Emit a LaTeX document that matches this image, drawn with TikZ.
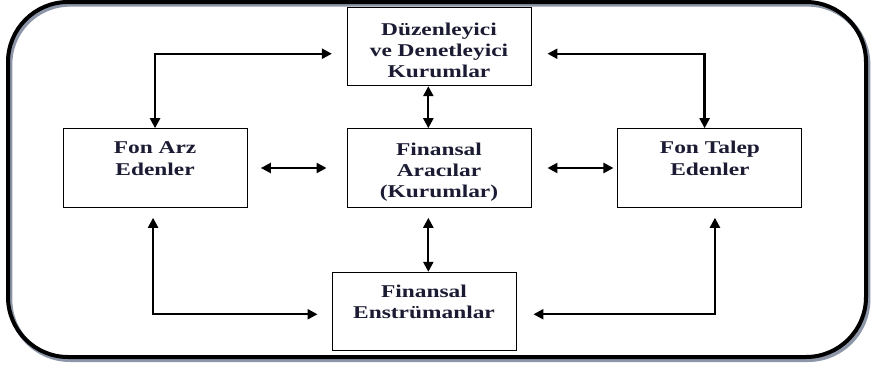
\documentclass[tikz,border=0pt]{standalone}
\usepackage{fontspec}
\setmainfont{Liberation Serif}[FakeStretch=1.3]
\usepackage{tikz}
\usetikzlibrary{arrows.meta, positioning, calc}
\definecolor{koyumavi}{HTML}{1B1B33}
\definecolor{golge}{HTML}{8C96A8}
\newcommand{\ustpay}{\rule{0pt}{15.5pt}}
\tikzstyle{kurum} = [
  rectangle, draw=black, line width=0.7pt, fill=white,
  minimum width=138pt, minimum height=59pt,
  align=center, inner sep=2pt, text=koyumavi,
  font=\bfseries\fontsize{13.5}{16}\selectfont
]
\tikzstyle{ciftok} = [
  {Triangle[length=7.5pt,width=7.5pt]}-{Triangle[length=7.5pt,width=7.5pt]},
  line width=1.7pt, color=black
]
\tikzstyle{cerceve} = [
  line width=3pt, rounded corners=45pt
]
\begin{document}
\begin{tikzpicture}
  \useasboundingbox (0,0) rectangle (654pt,276.75pt);

  % ── Frame ─────────────────────────────────────────────
  \draw[cerceve, golge, line width=3.5pt] (7.5pt,7pt) rectangle (651pt,273.5pt);
  \draw[cerceve] (6pt,9pt) rectangle (649.5pt,275.25pt);

  % ── Aracılar ──────────────────────────────────────────
  \node[kurum] (aracilar) at (329.25pt,150.75pt) {\ustpay Finansal\\Aracılar\\(Kurumlar)};

  % ── Düzenleyici ───────────────────────────────────────
  \node[kurum, above=31.5pt of aracilar]
    (duz) {\ustpay Düzenleyici\\ve Denetleyici\\Kurumlar};

  % ── Fon Arz ───────────────────────────────────────────
  \node[kurum, left=74.25pt of aracilar]
    (fonarz) {\ustpay Fon Arz\\Edenler\\\strut};

  % ── Fon Talep ─────────────────────────────────────────
  \node[kurum, right=64.5pt of aracilar]
    (fontalep) {\ustpay Fon Talep\\Edenler\\\strut};

  % ── Enstrümanlar ──────────────────────────────────────
  \node[kurum, below=48pt of aracilar, xshift=-11.25pt]
    (enstr) {\ustpay Finansal\\Enstrümanlar\\\strut};

  % ── Arrows ────────────────────────────────────────────
  \draw[ciftok] ([xshift=-11pt,yshift=-5.5pt]duz.west) -| (fonarz.north);
  \draw[ciftok] ([xshift=12pt,yshift=-5.5pt]duz.east) -| ([xshift=-4pt]fontalep.north);
  \draw[ciftok] ([xshift=-8pt]duz.south) -- ([xshift=-8pt]aracilar.north);
  \draw[ciftok] ([xshift=10pt]fonarz.east) -- ([xshift=-15pt]aracilar.west);
  \draw[ciftok] ([xshift=12pt]aracilar.east) -- ([xshift=-3pt]fontalep.west);
  \draw[ciftok] ([xshift=-8pt,yshift=-7.5pt]aracilar.south) -- ([xshift=-8pt]aracilar.south |- enstr.north);
  \draw[ciftok] ([xshift=-1.5pt,yshift=-7.5pt]fonarz.south) |- ([xshift=-10.5pt,yshift=-2pt]enstr.west);
  \draw[ciftok] ([xshift=3.75pt,yshift=-7.5pt]fontalep.south) |- ([xshift=12.75pt,yshift=-2pt]enstr.east);

\end{tikzpicture}
\end{document}
